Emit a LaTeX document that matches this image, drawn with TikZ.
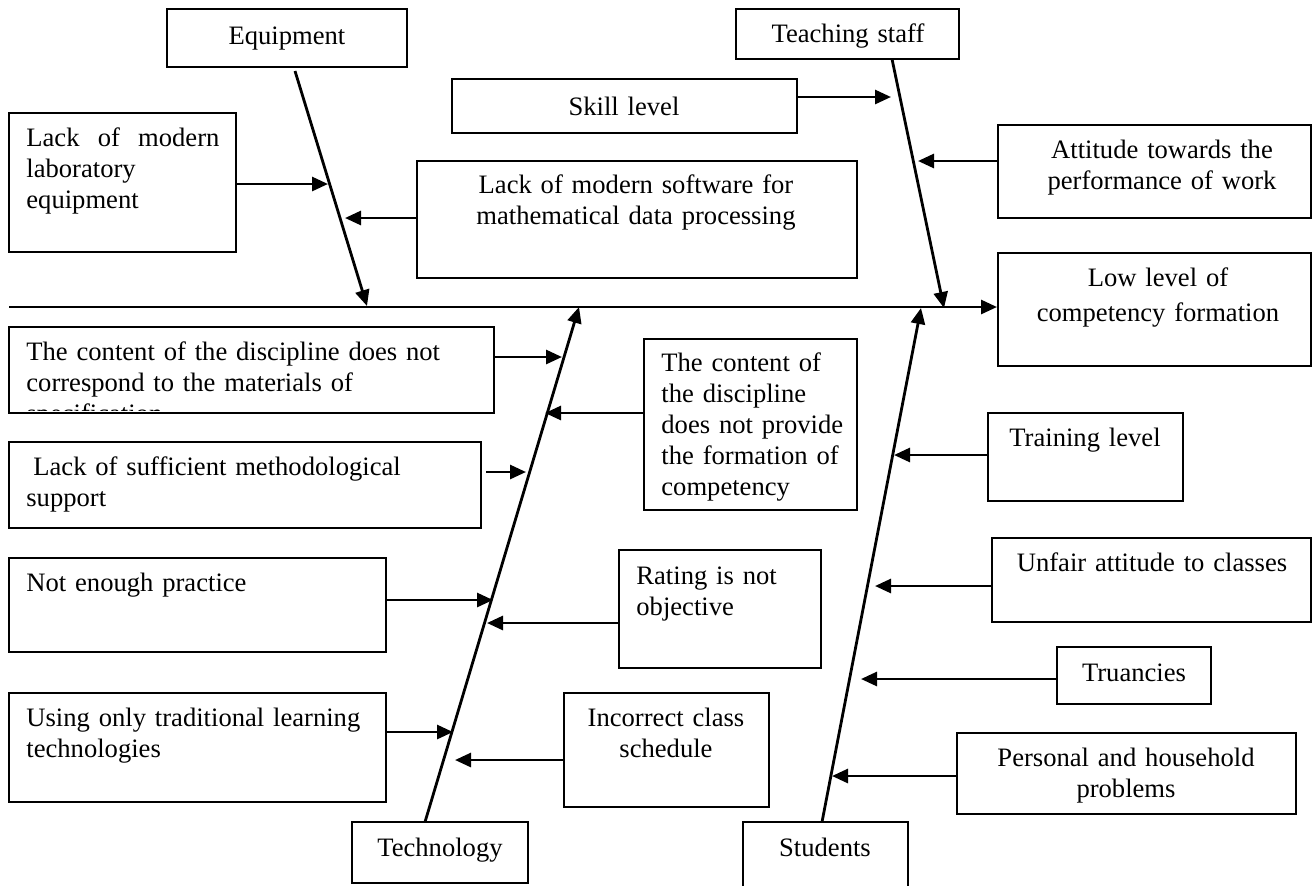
\documentclass[tikz,border=0pt]{standalone}
\usepackage{fontspec}
\setmainfont{Liberation Serif}
\usetikzlibrary{arrows.meta,fit}

\tikzset{
	cbox/.style={draw, line width=1pt, inner sep=0pt},
	txt/.style={inner sep=0pt, font=\fontsize{13.3}{15.5}\selectfont, text width=#1},
	txt/.default=220pt,
	bone/.style={line width=1.4pt},
	cause/.style={line width=1.4pt, -{Triangle[length=8pt,width=7pt]}},
}

\begin{document}
\begin{tikzpicture}[x=0.5pt,y=-0.5pt]
		\useasboundingbox (0,0) rectangle (1316,885);
		%%%%% BOXES %%%%%
		\node[cbox, fit={(167,9) (407,67)}] (eq) {};
		\node[cbox, fit={(736,9) (959,59)}] (ts) {};
		\node[cbox, fit={(452,79) (797,133)}] (skill) {};
		\node[cbox, fit={(9,113) (236,252)}] (lab) {};
		\node[cbox, fit={(417,161) (857,278)}] (soft) {};
		\node[cbox, fit={(998,125) (1311,218)}] (att) {};
		\node[cbox, fit={(998,253) (1311,366)}] (low) {};
		\node[cbox, fit={(9,327) (494,413)}] (spec) {};
		\node[cbox, fit={(644,339) (857,510)}] (prov) {};
		\node[cbox, fit={(9,442) (481,528)}] (meth) {};
		\node[cbox, fit={(988,413) (1183,501)}] (train) {};
		\node[cbox, fit={(9,558) (386,652)}] (pract) {};
		\node[cbox, fit={(619,550) (821,668)}] (rate) {};
		\node[cbox, fit={(992,538) (1311,622)}] (unfair) {};
		\node[cbox, fit={(1057,647) (1211,704)}] (truan) {};
		\node[cbox, fit={(9,693) (386,802)}] (trad) {};
		\node[cbox, fit={(564,693) (769,807)}] (sched) {};
		\node[cbox, fit={(957,733) (1296,814)}] (pers) {};
		\node[cbox, fit={(352,822) (528,883)}] (tech) {};
		\node[cbox, fit={(743,822) (908,900)}] (stud) {};
		
		%%%%% TEXTS %%%%%
		\node[txt, align=center, anchor=base] (eq-t) at (287,44) {Equipment};
		\node[txt, align=center, anchor=base] (ts-t) at (848,42) {Teaching staff};
		\node[txt, align=center, anchor=base] (skill-t) at (624,115) {Skill level};
		\node[txt=96.5pt, align=left, anchor=base west] (lab-t) at (26,146)
			{\hbox to 96.5pt{Lack\hfill of\hfill modern}\\laboratory\\equipment};
		\node[txt, align=center, anchor=base] (soft-t) at (636,193)
			{Lack of modern software for\\mathematical data processing};
		\node[txt, align=center, anchor=base] (att-t) at (1162,158)
			{Attitude towards the\\performance of work};
		\node[txt, align=center, anchor=base] (low-t) at (1158,286)
			{Low level of\\[2pt]competency formation};
		\begin{scope}
			\clip (spec.north west) rectangle ([yshift=2pt]spec.south east);
			\node[txt, align=left, anchor=base west] (spec-t) at (26,360)
				{The content of the discipline does not\\correspond to the materials of\\specification};
		\end{scope}
		\node[txt, align=left, anchor=base west] (prov-t) at (661,371)
			{The content of\\the discipline\\does not provide\\the formation of\\competency};
		\node[txt, align=left, anchor=base west] (meth-t) at (26,475)
			{\hspace*{3.5pt}Lack of sufficient methodological\\support};
		\node[txt, align=center, anchor=base] (train-t) at (1085,446) {Training level};
		\node[txt, align=left, anchor=base west] (pract-t) at (26,591) {Not enough practice};
		\node[txt, align=left, anchor=base west] (rate-t) at (636,584) {Rating is not\\objective};
		\node[txt, align=center, anchor=base] (unfair-t) at (1152,571) {Unfair attitude to classes};
		\node[txt, align=center, anchor=base] (truan-t) at (1134,681) {Truancies};
		\node[txt, align=left, anchor=base west] (trad-t) at (26,726)
			{Using only traditional learning\\technologies};
		\node[txt, align=center, anchor=base] (sched-t) at (666,726) {Incorrect class\\schedule};
		\node[txt, align=center, anchor=base] (pers-t) at (1126,766) {Personal and household\\problems};
		\node[txt, align=center, anchor=base] (tech-t) at (440,856) {Technology};
		\node[txt, align=center, anchor=base] (stud-t) at (825,856) {Students};
		
		%%%%% SPINE AND BONES %%%%%
		\coordinate (spine) at (9,307);
		\coordinate (eqtail) at (295,71);
		\coordinate (eqhead) at (367,306);
		\coordinate (tstail) at (892,59);
		\coordinate (tshead) at (944,308);
		\coordinate (tctail) at (425,822);
		\coordinate (tchead) at (579,307);
		\coordinate (sttail) at (822,822);
		\coordinate (sthead) at (921,308);
		
		\draw[cause] (spine) -- (spine -| low.west);
		\draw[cause] (eqtail) -- (eqhead);
		\draw[cause] (tstail) -- (tshead);
		\draw[cause] (tctail) -- (tchead);
		\draw[cause] (sttail) -- (sthead);
		
		%%%%% CAUSES %%%%%
		\coordinate (lab-e) at (328,184);
		\coordinate (soft-e) at (345,218);
		\coordinate (skill-e) at (891,97);
		\coordinate (att-e) at (918,161);
		\coordinate (spec-e) at (562,357);
		\coordinate (prov-e) at (545,413);
		\coordinate (meth-e) at (526,472);
		\coordinate (pract-e) at (493,600);
		\coordinate (rate-e) at (487,623);
		\coordinate (trad-e) at (453,732);
		\coordinate (sched-e) at (455,760);
		\coordinate (train-e) at (894,455);
		\coordinate (unfair-e) at (875,586);
		\coordinate (truan-e) at (861,679);
		\coordinate (pers-e) at (832,776);
		
		\draw[cause] (lab.east |- lab-e) -- (lab-e);
		\draw[cause] (soft.west |- soft-e) -- (soft-e);
		\draw[cause] (skill.east |- skill-e) -- (skill-e);
		\draw[cause] (att.west |- att-e) -- (att-e);
		\draw[cause] (spec.east |- spec-e) -- (spec-e);
		\draw[cause] (prov.west |- prov-e) -- (prov-e);
		\draw[cause] ([xshift=2pt]meth.east |- meth-e) -- (meth-e);
		\draw[cause] (pract.east |- pract-e) -- (pract-e);
		\draw[cause] (rate.west |- rate-e) -- (rate-e);
		\draw[cause] (trad.east |- trad-e) -- (trad-e);
		\draw[cause] (sched.west |- sched-e) -- (sched-e);
		\draw[cause] (train.west |- train-e) -- (train-e);
		\draw[cause] (unfair.west |- unfair-e) -- (unfair-e);
		\draw[cause] (truan.west |- truan-e) -- (truan-e);
		\draw[cause] (pers.west |- pers-e) -- (pers-e);
	\end{tikzpicture}
\end{document}
